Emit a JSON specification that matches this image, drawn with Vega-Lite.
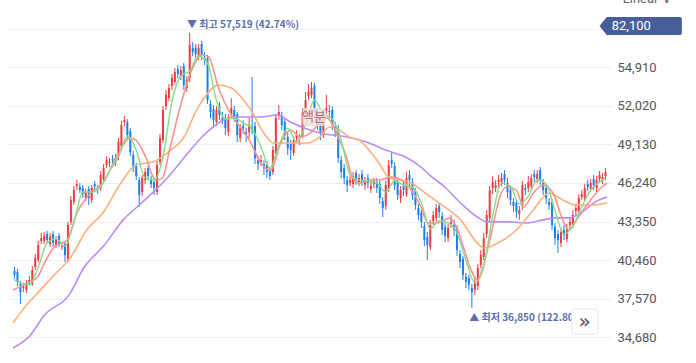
{
"$schema":"https://vega.github.io/schema/vega-lite/v6.json",
"width":604,"height":363,"autosize":{"type":"none"},
"padding":{"left":8,"right":84,"top":0,"bottom":0},
"background":"#ffffff",
"config":{"view":{"stroke":null},"axis":{"domain":false,"ticks":false}},
"datasets":{
"candles":[
{"d":0,"o":39640,"h":39940,"l":39040,"c":39340},{"d":1,"o":39560,"h":39790,"l":38510,"c":38810},{"d":2,"o":38660,"h":38890,"l":37160,"c":38060},{"d":3,"o":38360,"h":38740,"l":38060,"c":38440},{"d":4,"o":38210,"h":38960,"l":37990,"c":38660},{"d":5,"o":38810,"h":39260,"l":38590,"c":38960},{"d":6,"o":38660,"h":40010,"l":38510,"c":39710},{"d":7,"o":39940,"h":40910,"l":39710,"c":40610},{"d":8,"o":40460,"h":41890,"l":40310,"c":41590},{"d":9,"o":41890,"h":42490,"l":41660,"c":42110},
{"d":10,"o":41890,"h":42560,"l":41660,"c":42260},{"d":11,"o":42410,"h":42640,"l":41740,"c":41960},{"d":12,"o":41660,"h":42490,"l":41440,"c":42190},{"d":13,"o":42410,"h":42640,"l":41440,"c":41740},{"d":14,"o":41590,"h":42260,"l":41360,"c":41960},{"d":15,"o":42260,"h":42490,"l":41440,"c":41660},{"d":16,"o":41440,"h":41810,"l":41210,"c":41510},{"d":17,"o":41660,"h":41890,"l":40310,"c":40840},{"d":18,"o":40540,"h":43320,"l":40310,"c":43090},{"d":19,"o":43320,"h":45260,"l":43090,"c":44970},
{"d":20,"o":44820,"h":46010,"l":44590,"c":45710},{"d":21,"o":46010,"h":46460,"l":45710,"c":46160},{"d":22,"o":45940,"h":46240,"l":45490,"c":45710},{"d":23,"o":45860,"h":46090,"l":45110,"c":45410},{"d":24,"o":45110,"h":45790,"l":44890,"c":45560},{"d":25,"o":45790,"h":46010,"l":44590,"c":45110},{"d":26,"o":44970,"h":46090,"l":44740,"c":45860},{"d":27,"o":46160,"h":46390,"l":45710,"c":46010},{"d":28,"o":45790,"h":46090,"l":45410,"c":45710},{"d":29,"o":45860,"h":47140,"l":45640,"c":46840},
{"d":30,"o":46540,"h":47660,"l":46310,"c":47360},{"d":31,"o":47590,"h":48260,"l":47360,"c":47960},{"d":32,"o":47810,"h":48110,"l":47440,"c":47740},{"d":33,"o":48040,"h":48340,"l":47660,"c":47960},{"d":34,"o":47740,"h":48410,"l":47510,"c":48110},{"d":35,"o":48260,"h":49610,"l":47960,"c":49310},{"d":36,"o":49010,"h":50890,"l":48790,"c":50590},{"d":37,"o":50820,"h":51270,"l":50510,"c":50970},{"d":38,"o":50820,"h":51040,"l":49540,"c":49840},{"d":39,"o":50140,"h":50360,"l":48260,"c":48560},
{"d":40,"o":48340,"h":48640,"l":47060,"c":47360},{"d":41,"o":47510,"h":47740,"l":46460,"c":46760},{"d":42,"o":46460,"h":46690,"l":44440,"c":45340},{"d":43,"o":45560,"h":46840,"l":45260,"c":46610},{"d":44,"o":46460,"h":47360,"l":46160,"c":47060},{"d":45,"o":47360,"h":47590,"l":46460,"c":46760},{"d":46,"o":46540,"h":46760,"l":45860,"c":46160},{"d":47,"o":46310,"h":46610,"l":45340,"c":45860},{"d":48,"o":45560,"h":47890,"l":45340,"c":47590},{"d":49,"o":47810,"h":49910,"l":47590,"c":49610},
{"d":50,"o":49460,"h":52020,"l":49240,"c":51720},{"d":51,"o":52020,"h":53220,"l":51720,"c":52850},{"d":52,"o":52620,"h":53670,"l":52390,"c":53370},{"d":53,"o":53520,"h":54420,"l":53220,"c":54120},{"d":54,"o":53820,"h":54870,"l":53600,"c":54570},{"d":55,"o":54800,"h":55100,"l":54120,"c":54420},{"d":56,"o":54270,"h":55020,"l":53970,"c":54720},{"d":57,"o":55020,"h":55250,"l":53220,"c":53600},{"d":58,"o":53370,"h":54270,"l":53070,"c":53970},{"d":59,"o":54120,"h":57519,"l":53820,"c":56600},
{"d":60,"o":56370,"h":56820,"l":55770,"c":56070},{"d":61,"o":56370,"h":56670,"l":55620,"c":55920},{"d":62,"o":55770,"h":56670,"l":55470,"c":56370},{"d":63,"o":56670,"h":56900,"l":55470,"c":55850},{"d":64,"o":55620,"h":56070,"l":55100,"c":55470},{"d":65,"o":55620,"h":55850,"l":52170,"c":52470},{"d":66,"o":52170,"h":52470,"l":51120,"c":51570},{"d":67,"o":51790,"h":52090,"l":50360,"c":50970},{"d":68,"o":50820,"h":52020,"l":50510,"c":51720},{"d":69,"o":52020,"h":52320,"l":50970,"c":51340},
{"d":70,"o":51120,"h":51570,"l":50670,"c":50970},{"d":71,"o":51120,"h":51420,"l":49840,"c":50360},{"d":72,"o":50060,"h":51420,"l":49760,"c":51120},{"d":73,"o":51340,"h":52620,"l":51120,"c":51870},{"d":74,"o":51720,"h":52020,"l":50820,"c":51120},{"d":75,"o":51420,"h":51570,"l":49310,"c":49840},{"d":76,"o":49610,"h":50670,"l":49310,"c":50360},{"d":77,"o":50510,"h":50970,"l":49910,"c":50360},{"d":78,"o":50060,"h":50360,"l":49310,"c":49840},{"d":79,"o":50060,"h":51120,"l":49610,"c":50590},
{"d":80,"o":50440,"h":54200,"l":49910,"c":50210},{"d":81,"o":50510,"h":50820,"l":47660,"c":48110},{"d":82,"o":47960,"h":48260,"l":47210,"c":47660},{"d":83,"o":47810,"h":48340,"l":47510,"c":47960},{"d":84,"o":47660,"h":47960,"l":46840,"c":47360},{"d":85,"o":47590,"h":47890,"l":46610,"c":47060},{"d":86,"o":47140,"h":47440,"l":46460,"c":46760},{"d":87,"o":47060,"h":49010,"l":46840,"c":48710},{"d":88,"o":48490,"h":51420,"l":48260,"c":51120},{"d":89,"o":51270,"h":52090,"l":50970,"c":51570},
{"d":90,"o":51270,"h":51570,"l":50210,"c":50590},{"d":91,"o":50820,"h":51120,"l":49460,"c":49840},{"d":92,"o":49690,"h":49990,"l":48340,"c":48860},{"d":93,"o":49160,"h":49460,"l":47960,"c":48710},{"d":94,"o":48490,"h":49760,"l":48260,"c":49460},{"d":95,"o":49610,"h":50210,"l":49310,"c":49840},{"d":96,"o":49540,"h":49910,"l":49090,"c":49610},{"d":97,"o":49840,"h":51870,"l":49610,"c":51570},{"d":98,"o":51420,"h":53070,"l":51190,"c":52470},{"d":99,"o":52770,"h":53670,"l":52470,"c":53070},
{"d":100,"o":52850,"h":53820,"l":52620,"c":53370},{"d":101,"o":53520,"h":53750,"l":51570,"c":51870},{"d":102,"o":51570,"h":51870,"l":50210,"c":50590},{"d":103,"o":50820,"h":51120,"l":49460,"c":49990},{"d":104,"o":49840,"h":51720,"l":49610,"c":51340},{"d":105,"o":51640,"h":52850,"l":51420,"c":51870},{"d":106,"o":51640,"h":52090,"l":51120,"c":51570},{"d":107,"o":51720,"h":52020,"l":50210,"c":50590},{"d":108,"o":50440,"h":50820,"l":49690,"c":50060},{"d":109,"o":50290,"h":50590,"l":47740,"c":48110},
{"d":110,"o":47960,"h":48260,"l":46610,"c":47060},{"d":111,"o":47360,"h":47660,"l":46160,"c":46610},{"d":112,"o":46460,"h":46760,"l":45560,"c":46090},{"d":113,"o":46240,"h":46760,"l":46010,"c":46460},{"d":114,"o":46160,"h":47060,"l":45860,"c":46760},{"d":115,"o":46990,"h":47210,"l":46090,"c":46460},{"d":116,"o":46310,"h":46910,"l":46010,"c":46610},{"d":117,"o":46910,"h":47210,"l":46010,"c":46310},{"d":118,"o":46090,"h":46690,"l":45710,"c":46460},{"d":119,"o":46610,"h":46910,"l":45860,"c":46240},
{"d":120,"o":45790,"h":46310,"l":45490,"c":46010},{"d":121,"o":46160,"h":46610,"l":45860,"c":46460},{"d":122,"o":46310,"h":46610,"l":45490,"c":45860},{"d":123,"o":46160,"h":46390,"l":44670,"c":45110},{"d":124,"o":44890,"h":45190,"l":43690,"c":44370},{"d":125,"o":44520,"h":46390,"l":44220,"c":46090},{"d":126,"o":45790,"h":47960,"l":45560,"c":47590},{"d":127,"o":47960,"h":48490,"l":47360,"c":47660},{"d":128,"o":47510,"h":47810,"l":45710,"c":46090},{"d":129,"o":46390,"h":46610,"l":44970,"c":45340},
{"d":130,"o":45110,"h":46010,"l":44740,"c":45710},{"d":131,"o":46010,"h":46310,"l":45260,"c":45710},{"d":132,"o":45410,"h":47060,"l":45190,"c":46610},{"d":133,"o":46840,"h":47210,"l":46010,"c":46460},{"d":134,"o":46310,"h":46610,"l":44970,"c":45340},{"d":135,"o":45640,"h":45860,"l":44220,"c":44590},{"d":136,"o":44370,"h":44670,"l":43470,"c":43840},{"d":137,"o":43990,"h":44220,"l":42860,"c":43320},{"d":138,"o":43010,"h":43320,"l":41510,"c":41960},{"d":139,"o":42190,"h":42560,"l":40460,"c":41590},
{"d":140,"o":41440,"h":43470,"l":41210,"c":43090},{"d":141,"o":43390,"h":44140,"l":43090,"c":43840},{"d":142,"o":43620,"h":44670,"l":43320,"c":44370},{"d":143,"o":44520,"h":44740,"l":43620,"c":44070},{"d":144,"o":43770,"h":44070,"l":42340,"c":42710},{"d":145,"o":42940,"h":43240,"l":41810,"c":42260},{"d":146,"o":42110,"h":43170,"l":41810,"c":42860},{"d":147,"o":43170,"h":43840,"l":42860,"c":43320},{"d":148,"o":43090,"h":43470,"l":42260,"c":42710},{"d":149,"o":42860,"h":43090,"l":40760,"c":41210},
{"d":150,"o":40910,"h":41210,"l":39860,"c":40310},{"d":151,"o":40540,"h":40760,"l":38960,"c":39340},{"d":152,"o":39190,"h":39490,"l":38360,"c":38810},{"d":153,"o":39110,"h":39340,"l":38210,"c":38590},{"d":154,"o":38360,"h":38660,"l":36850,"c":38060},{"d":155,"o":38210,"h":39190,"l":37840,"c":38810},{"d":156,"o":38510,"h":40160,"l":38210,"c":39860},{"d":157,"o":40090,"h":41210,"l":39860,"c":40840},{"d":158,"o":40690,"h":42490,"l":40460,"c":42110},{"d":159,"o":42410,"h":44220,"l":42110,"c":43840},
{"d":160,"o":43620,"h":46010,"l":43320,"c":45710},{"d":161,"o":45860,"h":46760,"l":45410,"c":46310},{"d":162,"o":45860,"h":46460,"l":45560,"c":46090},{"d":163,"o":46310,"h":46840,"l":45860,"c":46460},{"d":164,"o":46310,"h":46990,"l":46010,"c":46610},{"d":165,"o":46910,"h":47210,"l":46090,"c":46460},{"d":166,"o":46240,"h":46610,"l":45110,"c":45560},{"d":167,"o":45710,"h":46010,"l":44590,"c":44970},{"d":168,"o":44820,"h":45110,"l":44070,"c":44520},{"d":169,"o":44740,"h":45040,"l":43620,"c":44070},
{"d":170,"o":43920,"h":44520,"l":43470,"c":44220},{"d":171,"o":44520,"h":46390,"l":44220,"c":46090},{"d":172,"o":45860,"h":46160,"l":45340,"c":45710},{"d":173,"o":45860,"h":46760,"l":45560,"c":46310},{"d":174,"o":46010,"h":46910,"l":45710,"c":46610},{"d":175,"o":46910,"h":47210,"l":46310,"c":46690},{"d":176,"o":46540,"h":47210,"l":46240,"c":46910},{"d":177,"o":47210,"h":47440,"l":46090,"c":46460},{"d":178,"o":46240,"h":46540,"l":45340,"c":45710},{"d":179,"o":45860,"h":46160,"l":44670,"c":45110},
{"d":180,"o":44820,"h":45110,"l":44220,"c":44590},{"d":181,"o":44820,"h":45040,"l":42710,"c":43090},{"d":182,"o":42940,"h":43240,"l":41590,"c":42110},{"d":183,"o":42410,"h":42710,"l":40990,"c":41960},{"d":184,"o":41740,"h":42860,"l":41440,"c":42560},{"d":185,"o":42710,"h":43090,"l":41960,"c":42340},{"d":186,"o":42040,"h":43170,"l":41810,"c":42860},{"d":187,"o":43090,"h":43620,"l":42710,"c":43320},{"d":188,"o":43170,"h":44220,"l":42860,"c":43840},{"d":189,"o":44140,"h":44670,"l":43840,"c":44370},
{"d":190,"o":44140,"h":45410,"l":43920,"c":45110},{"d":191,"o":45190,"h":45710,"l":44970,"c":45410},{"d":192,"o":45110,"h":46160,"l":44890,"c":45860},{"d":193,"o":46160,"h":46460,"l":45640,"c":45940},{"d":194,"o":45790,"h":46540,"l":45560,"c":46240},{"d":195,"o":46540,"h":46840,"l":45710,"c":46090},{"d":196,"o":45860,"h":46760,"l":45560,"c":46460},{"d":197,"o":46540,"h":47140,"l":46240,"c":46840},{"d":198,"o":46460,"h":46990,"l":46160,"c":46690},{"d":199,"o":46760,"h":47360,"l":46460,"c":47060}
],
"ma5":[
{"d":0,"v":38960},{"d":2,"v":38740},{"d":5,"v":38590},{"d":8,"v":39940},{"d":11,"v":41740},{"d":14,"v":42040},{"d":17,"v":41510},{"d":20,"v":43240},{"d":23,"v":45560},{"d":26,"v":45560},{"d":29,"v":45940},{"d":32,"v":47140},{"d":35,"v":48190},{"d":38,"v":49760},{"d":41,"v":48710},{"d":44,"v":46610},{"d":47,"v":46460},{"d":50,"v":48190},{"d":53,"v":52320},{"d":56,"v":54270},{"d":59,"v":54650},{"d":62,"v":55770},{"d":65,"v":55250},{"d":68,"v":52470},{"d":71,"v":51040},{"d":74,"v":51120},{"d":77,"v":50740},{"d":80,"v":50290},{"d":83,"v":48940},{"d":86,"v":47360},{"d":89,"v":49010},{"d":92,"v":50360},{"d":95,"v":49310},{"d":98,"v":50590},{"d":101,"v":52470},{"d":104,"v":51420},{"d":107,"v":51040},{"d":110,"v":49460},{"d":113,"v":46840},{"d":116,"v":46460},{"d":119,"v":46390},{"d":122,"v":46240},{"d":125,"v":45560},{"d":128,"v":46390},{"d":131,"v":46090},{"d":134,"v":45940},{"d":137,"v":44740},{"d":140,"v":42790},{"d":143,"v":43390},{"d":146,"v":43240},{"d":149,"v":42490},{"d":152,"v":40460},{"d":155,"v":38740},{"d":158,"v":39940},{"d":161,"v":43770},{"d":164,"v":46240},{"d":167,"v":46010},{"d":170,"v":44670},{"d":173,"v":45260},{"d":176,"v":46460},{"d":179,"v":46160},{"d":182,"v":44140},{"d":185,"v":42410},{"d":188,"v":43010},{"d":191,"v":44440},{"d":194,"v":45710},{"d":197,"v":46310},{"d":199,"v":46610}
],
"ma20":[
{"d":-0.5,"v":38210},{"d":4.5,"v":38740},{"d":7.8,"v":39190},{"d":10.1,"v":40240},{"d":13.4,"v":41440},{"d":17.7,"v":41960},{"d":21,"v":43990},{"d":25.7,"v":45490},{"d":30,"v":46310},{"d":34.3,"v":48190},{"d":38.9,"v":49610},{"d":40.9,"v":49460},{"d":44.2,"v":48190},{"d":47.5,"v":46460},{"d":49.8,"v":46610},{"d":52.2,"v":48710},{"d":55.5,"v":51720},{"d":58.8,"v":54200},{"d":63.1,"v":55850},{"d":65.4,"v":55700},{"d":68.7,"v":53370},{"d":73,"v":51340},{"d":76.3,"v":50360},{"d":79.6,"v":49240},{"d":82.9,"v":47740},{"d":86.3,"v":47210},{"d":89.6,"v":49240},{"d":92.9,"v":50210},{"d":96.2,"v":49690},{"d":99.5,"v":49990},{"d":102.8,"v":50740},{"d":105.1,"v":51120},{"d":109.4,"v":49460},{"d":111.8,"v":48190},{"d":113.7,"v":46690},{"d":116.1,"v":46240},{"d":119.4,"v":46460},{"d":122.7,"v":46460},{"d":127,"v":46690},{"d":130.3,"v":46460},{"d":133.6,"v":45710},{"d":136.9,"v":44440},{"d":139.2,"v":43240},{"d":142.6,"v":43240},{"d":146.6,"v":43620},{"d":149.2,"v":42710},{"d":151.5,"v":41210},{"d":153.5,"v":39860},{"d":155.8,"v":38960},{"d":158.1,"v":40240},{"d":160.8,"v":42710},{"d":163.4,"v":45190},{"d":165.7,"v":45940},{"d":169,"v":45710},{"d":171.4,"v":44440},{"d":174.7,"v":45490},{"d":178,"v":46090},{"d":181.3,"v":45490},{"d":184.6,"v":43470},{"d":186.6,"v":42710},{"d":189.9,"v":43690},{"d":193.2,"v":44740},{"d":197.8,"v":45940},{"d":199.5,"v":46240}
],
"ma60":[
{"d":-0.5,"v":35730},{"d":3.5,"v":36930},{"d":7.8,"v":37990},{"d":13.4,"v":39340},{"d":19,"v":40690},{"d":24.3,"v":42710},{"d":30,"v":44070},{"d":35.6,"v":46160},{"d":40.9,"v":47590},{"d":46.5,"v":47810},{"d":52.2,"v":48640},{"d":57.5,"v":49840},{"d":60.8,"v":51490},{"d":64.1,"v":52700},{"d":68.7,"v":53600},{"d":73,"v":53370},{"d":76.3,"v":52700},{"d":79.6,"v":51720},{"d":83.9,"v":49990},{"d":87.3,"v":49240},{"d":92.9,"v":49240},{"d":98.5,"v":49240},{"d":102.8,"v":49690},{"d":106.1,"v":50440},{"d":109.4,"v":50210},{"d":112.8,"v":49690},{"d":116.1,"v":49460},{"d":119.4,"v":48710},{"d":122.7,"v":47740},{"d":126,"v":46690},{"d":133.6,"v":46240},{"d":139.2,"v":45340},{"d":144.9,"v":44440},{"d":150.2,"v":43470},{"d":155.8,"v":41740},{"d":158.1,"v":41360},{"d":163.4,"v":41810},{"d":169,"v":42710},{"d":174.7,"v":44220},{"d":180,"v":45490},{"d":184.6,"v":44970},{"d":188.9,"v":44590},{"d":194.5,"v":44590},{"d":199.5,"v":44740}
],
"ma120":[
{"d":-0.5,"v":33850},{"d":5.1,"v":34750},{"d":10.1,"v":36330},{"d":18.4,"v":37840},{"d":23.3,"v":39860},{"d":30,"v":41510},{"d":36.6,"v":43470},{"d":43.2,"v":44820},{"d":50.8,"v":46460},{"d":59.8,"v":48860},{"d":63.1,"v":49690},{"d":66.4,"v":50360},{"d":69.7,"v":50890},{"d":74,"v":51190},{"d":83,"v":51190},{"d":88.6,"v":51340},{"d":92.9,"v":50820},{"d":102.8,"v":49990},{"d":111.8,"v":49690},{"d":119.4,"v":49240},{"d":125,"v":48710},{"d":131.6,"v":48190},{"d":136.9,"v":47440},{"d":140.2,"v":46760},{"d":144.9,"v":45940},{"d":150.2,"v":44740},{"d":155.8,"v":43690},{"d":159.1,"v":43320},{"d":166.7,"v":43320},{"d":172.4,"v":43240},{"d":178,"v":43470},{"d":182.3,"v":43620},{"d":186.6,"v":43620},{"d":191.2,"v":44070},{"d":195.5,"v":44820},{"d":199.5,"v":45190}
]
},
"layer":[
{"data":{"name":"candles"},"mark":{"type":"rule","strokeWidth":1},
 "encoding":{
  "x":{"field":"d","type":"quantitative","scale":{"domain":[-0.5,199.5],"nice":false,"zero":false},"axis":null},
  "y":{"field":"l","type":"quantitative","title":null,"scale":{"domain":[32729,59976],"nice":false,"zero":false},
       "axis":{"orient":"right","values":[34680,37570,40460,43350,46240,49130,52020,54910,57800],"labelExpr":"datum.value == 57800 ? '' : format(datum.value, ',')","grid":true,"gridColor":"#eef0f4","gridWidth":1,"labelPadding":5,"labelFontSize":13,"labelColor":"#555555","labelFont":"Roboto","title":null}},
  "y2":{"field":"h"},
  "color":{"condition":{"test":"datum.c >= datum.o","value":"#ef3b3f"},"value":"#1a80ec"}}},
{"data":{"name":"candles"},"mark":{"type":"bar","width":2},
 "encoding":{
  "x":{"field":"d","type":"quantitative","scale":{"domain":[-0.5,199.5],"nice":false,"zero":false},"axis":null},
  "y":{"field":"o","type":"quantitative","title":null,"scale":{"domain":[32729,59976],"nice":false,"zero":false}},
  "y2":{"field":"c"},
  "color":{"condition":{"test":"datum.c >= datum.o","value":"#ef3b3f"},"value":"#1a80ec"}}},
{"data":{"name":"ma120"},"mark":{"type":"line","interpolate":"monotone","strokeWidth":1.6,"color":"#b98cfa"},
 "encoding":{"x":{"field":"d","type":"quantitative","scale":{"domain":[-0.5,199.5],"nice":false,"zero":false},"axis":null},
  "y":{"field":"v","type":"quantitative","title":null,"scale":{"domain":[32729,59976],"nice":false,"zero":false}}}},
{"data":{"name":"ma60"},"mark":{"type":"line","interpolate":"monotone","strokeWidth":1.6,"color":"#ffb07c"},
 "encoding":{"x":{"field":"d","type":"quantitative","scale":{"domain":[-0.5,199.5],"nice":false,"zero":false},"axis":null},
  "y":{"field":"v","type":"quantitative","title":null,"scale":{"domain":[32729,59976],"nice":false,"zero":false}}}},
{"data":{"name":"ma20"},"mark":{"type":"line","interpolate":"monotone","strokeWidth":1.6,"color":"#ff9191"},
 "encoding":{"x":{"field":"d","type":"quantitative","scale":{"domain":[-0.5,199.5],"nice":false,"zero":false},"axis":null},
  "y":{"field":"v","type":"quantitative","title":null,"scale":{"domain":[32729,59976],"nice":false,"zero":false}}}},
{"data":{"name":"ma5"},"mark":{"type":"line","interpolate":"monotone","strokeWidth":1.4,"color":"#86dc86"},
 "encoding":{"x":{"field":"d","type":"quantitative","scale":{"domain":[-0.5,199.5],"nice":false,"zero":false},"axis":null},
  "y":{"field":"v","type":"quantitative","title":null,"scale":{"domain":[32729,59976],"nice":false,"zero":false}}}},
{"data":{"values":[{"x1":96.9,"x2":104.8,"y1":51870,"y2":50510}]},"mark":{"type":"rect","fill":"#f4dcdc","opacity":0.8,"cornerRadius":3},
 "encoding":{"x":{"field":"x1","type":"quantitative","axis":null},"x2":{"field":"x2"},"y":{"field":"y1","type":"quantitative","title":null},"y2":{"field":"y2"}}},
{"data":{"values":[{"x":100.8,"y":51190,"t":"액분"}]},"mark":{"type":"text","font":"Noto Sans CJK KR","fontSize":13,"color":"#b37474","align":"center","baseline":"middle"},
 "encoding":{"x":{"field":"x","type":"quantitative","axis":null},"y":{"field":"y","type":"quantitative","title":null},"text":{"field":"t"}}},
{"data":{"values":[{"x":58.1,"y":58100,"t":"▼ 최고 57,519 (42.74%)"},{"x":153.1,"y":36110,"t":"▲ 최저 36,850 (122.80%)"}]},"mark":{"type":"text","font":"Noto Sans CJK KR","fontSize":10,"fontWeight":"bold","color":"#5b6eab","align":"left","baseline":"middle"},
 "encoding":{"x":{"field":"x","type":"quantitative","axis":null},"y":{"field":"y","type":"quantitative","title":null},"text":{"field":"t"}}},
{"data":{"values":[{"x1":187.6,"x2":196.5,"y1":36780,"y2":34900}]},"mark":{"type":"rect","fill":"#ffffff","stroke":"#e3e6ea","strokeWidth":1,"cornerRadius":3},
 "encoding":{"x":{"field":"x1","type":"quantitative","axis":null},"x2":{"field":"x2"},"y":{"field":"y1","type":"quantitative","title":null},"y2":{"field":"y2"}}},
{"data":{"values":[{"x":192,"y":35840,"t":"»"}]},"mark":{"type":"text","font":"DejaVu Sans","fontSize":20,"color":"#555555","align":"center","baseline":"middle"},
 "encoding":{"x":{"field":"x","type":"quantitative","axis":null},"y":{"field":"y","type":"quantitative","title":null},"text":{"field":"t"}}},
{"data":{"values":[{"x":198.8,"y":58020}]},"mark":{"type":"point","filled":true,"opacity":1,"size":324,"shape":"M1,-1L0.2,-1L-0.6,0L0.2,1L1,1Z","color":"#485d9a"},
 "encoding":{"x":{"field":"x","type":"quantitative","axis":null},"y":{"field":"y","type":"quantitative","title":null}}},
{"data":{"values":[{"x1":199.5,"x2":224.7,"y1":58700,"y2":57350}]},"mark":{"type":"rect","fill":"#485d9a","cornerRadius":2},
 "encoding":{"x":{"field":"x1","type":"quantitative","axis":null},"x2":{"field":"x2"},"y":{"field":"y1","type":"quantitative","title":null},"y2":{"field":"y2"}}},
{"data":{"values":[{"x":201.1,"y":58020,"t":"82,100"}]},"mark":{"type":"text","font":"Roboto","fontSize":13,"color":"#ffffff","align":"left","baseline":"middle"},
 "encoding":{"x":{"field":"x","type":"quantitative","axis":null},"y":{"field":"y","type":"quantitative","title":null},"text":{"field":"t"}}},
{"data":{"values":[{"x":204.8,"y":59750,"t":"Linear"},{"x":218,"y":59750,"t":"∨"}]},"mark":{"type":"text","font":"Roboto","fontSize":13,"color":"#666666","align":"left","baseline":"alphabetic"},
 "encoding":{"x":{"field":"x","type":"quantitative","axis":null},"y":{"field":"y","type":"quantitative","title":null},"text":{"field":"t"}}}
]
}
